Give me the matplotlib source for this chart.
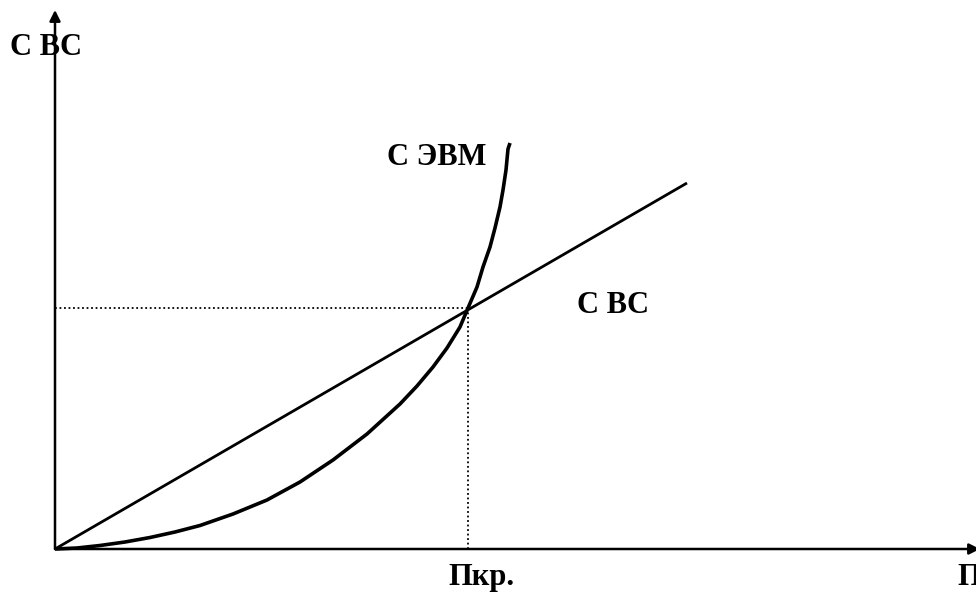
import numpy as np
import matplotlib.pyplot as plt

plt.rcParams['font.family'] = ['Liberation Serif', 'DejaVu Serif']

# Data (origin at the axes crossing)
line_x = [0, 632]                      # С ВС straight line
line_y = [0, 366]
curve_x = [0, 22, 45, 70, 95, 120, 145, 178, 212, 245, 278, 312, 345, 362, 378,
           392, 405, 413, 422, 428, 435, 440, 445, 448, 451, 453, 455]
curve_y = [0, 1, 3.5, 7, 11.5, 17, 23.5, 35, 49, 67, 89, 115, 145, 163, 182,
           201, 222, 241, 262, 282, 302, 321, 342, 359, 379, 400, 406]
p_crit = 413                           # Пкр.
c_crit = 241
x_axis_end = 921
y_axis_end = 539

labels = ['С ВС', 'С ЭВМ', 'С ВС', 'Пкр.', 'П']
label_x = [-45, 332, 522, 393, 902]
label_y = [494, 384, 236, -36, -36]

fig = plt.figure(figsize=(9.76, 5.92), dpi=100, facecolor='white')
ax = fig.add_axes([0, 0, 1, 1])
ax.set_xlim(-55, 921)
ax.set_ylim(-43, 549)
ax.axis('off')

# axes with arrows
arrow = dict(arrowstyle='-|>', color='black', lw=1.8, mutation_scale=16, shrinkA=0, shrinkB=0)
ax.annotate('', xy=(0, y_axis_end), xytext=(0, 0), arrowprops=arrow, annotation_clip=False)
ax.annotate('', xy=(x_axis_end + 4, 0), xytext=(0, 0), arrowprops=arrow, annotation_clip=False)

# dotted guides
ax.plot([0, p_crit], [c_crit, c_crit], color='black', lw=1.3, ls=(0, (1, 1.5)))
ax.plot([p_crit, p_crit], [0, c_crit], color='black', lw=1.3, ls=(0, (1, 1.5)))

# lines
ax.plot(line_x, line_y, color='black', lw=2.0, solid_capstyle='butt')
ax.plot(curve_x, curve_y, color='black', lw=2.6, solid_capstyle='butt', solid_joinstyle='round')

for t, x, y in zip(labels, label_x, label_y):
    ax.text(x, y, t, fontsize=22, fontweight='bold', ha='left', va='baseline')

fig.savefig('out.png', dpi=100, facecolor='white')
